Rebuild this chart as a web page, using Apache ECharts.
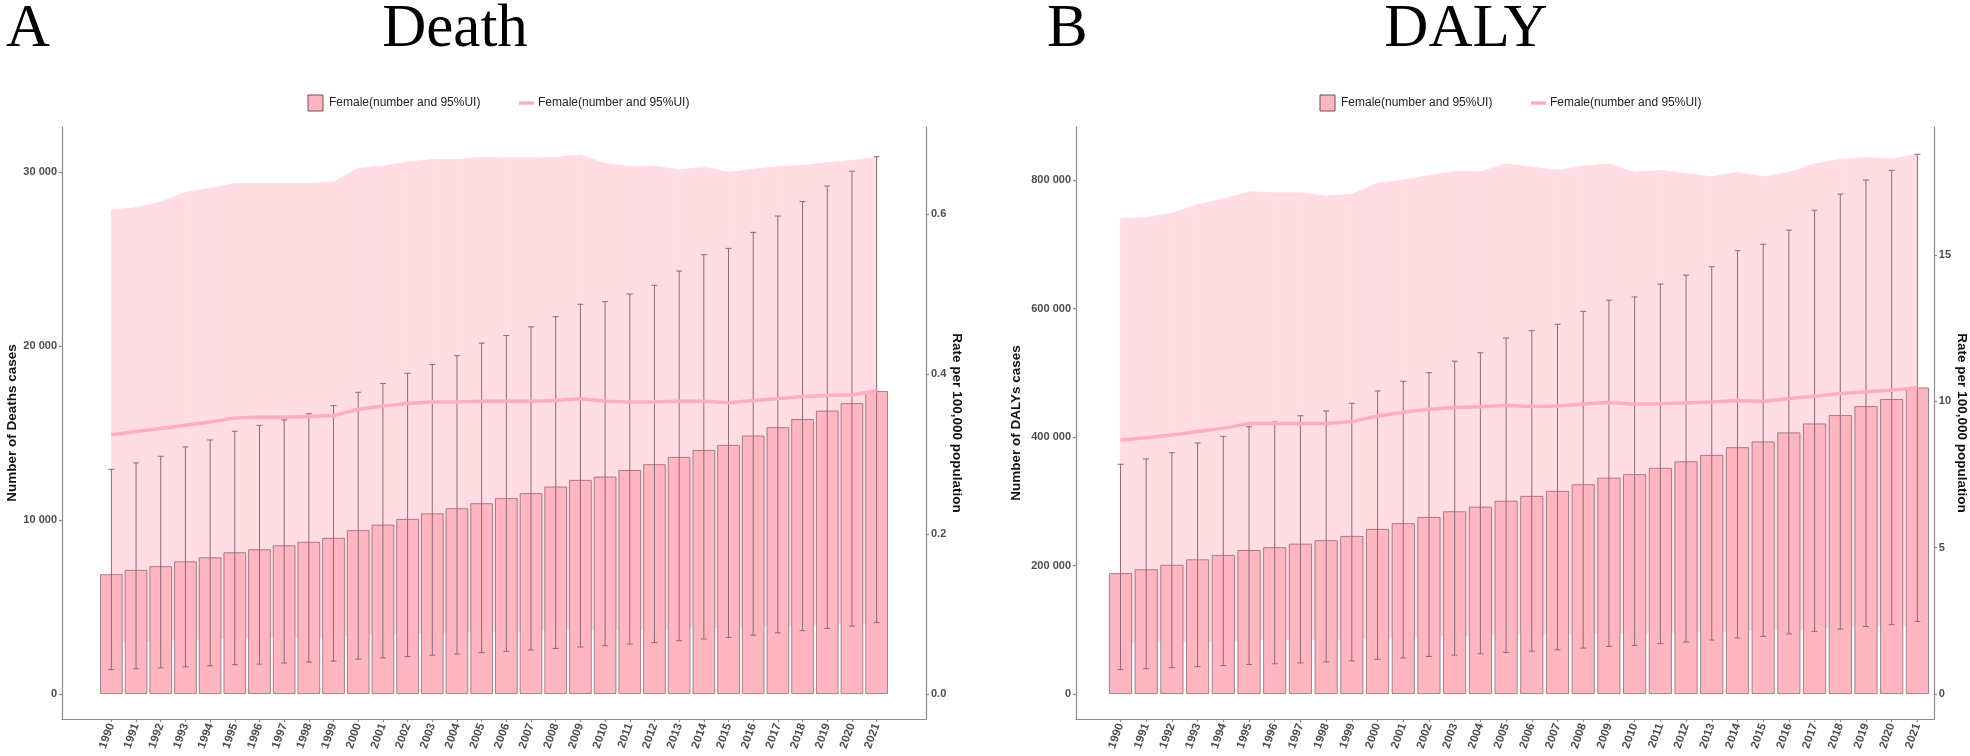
<!DOCTYPE html>
<html><head><meta charset="utf-8">
<script src="https://cdn.jsdelivr.net/npm/echarts@6/dist/echarts.min.js"></script>
<style>html,body{margin:0;padding:0;background:#fff}#c{width:1970px;height:756px}</style>
</head><body><div id="c"></div>
<script>
const years = [1990,1991,1992,1993,1994,1995,1996,1997,1998,1999,2000,2001,2002,2003,2004,2005,2006,2007,2008,2009,2010,2011,2012,2013,2014,2015,2016,2017,2018,2019,2020,2021];

const deathNum   = [6880,7130,7340,7620,7850,8140,8310,8540,8740,8970,9410,9730,10060,10380,10670,10960,11250,11540,11920,12300,12490,12870,13200,13620,14020,14310,14850,15330,15800,16280,16710,17410];
const deathUpper = [12910,13280,13660,14200,14600,15100,15440,15750,16110,16570,17340,17850,18430,18940,19440,20170,20600,21100,21680,22400,22550,22990,23490,24310,25250,25610,26530,27470,28300,29190,30050,30880];
const deathLower = [1400,1450,1500,1560,1620,1680,1720,1780,1830,1890,2000,2080,2150,2230,2300,2380,2450,2530,2620,2700,2770,2870,2950,3060,3160,3250,3380,3510,3640,3770,3900,4100];
const deathRate      = [0.324,0.328,0.332,0.336,0.340,0.345,0.346,0.346,0.347,0.348,0.356,0.360,0.363,0.365,0.365,0.366,0.366,0.366,0.367,0.369,0.366,0.365,0.365,0.366,0.366,0.364,0.367,0.369,0.372,0.373,0.374,0.379];
const deathRateUpper = [0.605,0.608,0.615,0.627,0.632,0.638,0.638,0.638,0.638,0.640,0.657,0.660,0.665,0.668,0.668,0.671,0.670,0.670,0.671,0.674,0.663,0.659,0.660,0.655,0.659,0.652,0.656,0.659,0.661,0.664,0.667,0.671];
const deathRateLower = [0.066,0.066,0.067,0.068,0.069,0.070,0.070,0.071,0.071,0.072,0.074,0.075,0.076,0.077,0.077,0.078,0.078,0.079,0.080,0.080,0.080,0.081,0.081,0.082,0.083,0.083,0.084,0.085,0.086,0.087,0.088,0.089];

const dalyNum   = [188000,194000,201000,209500,216300,224000,228300,233900,239200,245900,256800,265700,275500,284300,291500,300700,308200,316000,326300,336600,342000,352000,362000,372000,384000,393000,407000,421000,434000,448000,459000,477000];
const dalyUpper = [357500,365800,375600,390700,401000,416000,423300,433000,440500,452400,471600,486700,500000,518000,531000,554000,565500,575400,595600,613000,618000,638000,652000,665000,690000,700000,722000,753000,778000,800000,815000,840000];
const dalyLower = [38000,39500,41000,42700,44300,46000,47000,48400,49800,51500,54000,56000,58500,60500,62500,64800,66700,68800,71400,74000,75700,78500,81000,84000,87200,89700,93600,97500,101000,105000,108000,113000];
const dalyRate      = [8.68,8.76,8.85,8.97,9.08,9.25,9.25,9.25,9.25,9.31,9.50,9.63,9.73,9.79,9.82,9.86,9.83,9.84,9.91,9.96,9.90,9.92,9.95,9.98,10.03,10.00,10.10,10.18,10.27,10.33,10.38,10.47];
const dalyRateUpper = [16.25,16.29,16.43,16.73,16.91,17.17,17.13,17.13,17.02,17.08,17.46,17.57,17.72,17.85,17.85,18.12,18.01,17.90,18.05,18.12,17.83,17.90,17.79,17.68,17.83,17.68,17.83,18.12,18.27,18.34,18.29,18.45];
const dalyRateLower = [1.74,1.75,1.77,1.80,1.82,1.85,1.85,1.86,1.86,1.88,1.92,1.95,1.98,2.00,2.01,2.03,2.03,2.04,2.07,2.09,2.08,2.10,2.12,2.14,2.16,2.17,2.21,2.24,2.28,2.31,2.34,2.38];

const deathTicks = [0,10000,20000,30000];
const deathRateTicks = [0,0.2,0.4,0.6];
const dalyTicks = [0,200000,400000,600000,800000];
const dalyRateTicks = [0,5,10,15];

const legendLabel = 'Female(number and 95%UI)';

const chart = echarts.init(document.getElementById('c'), null, {renderer:'canvas'});
const SANS = '"Liberation Sans", Arial, sans-serif';
const SERIF = '"Liberation Serif", "Times New Roman", serif';
const BAND = '#FFDDE3';
function sp(v){ return String(v).replace(/\B(?=(\d{3})+(?!\d))/g,' '); }
function pairs(vals){ return years.map((y,i)=>[y, vals[i]]); }
function errData(lo, up){ return years.map((y,i)=>[y, lo[i], up[i]]); }
function bandData(lo, up){ return years.slice(0,-1).map((y,i)=>[y, lo[i], up[i], years[i+1], lo[i+1], up[i+1]]); }
function bandRender(params, api){
  const x0 = api.value(0), l0 = api.value(1), u0 = api.value(2);
  const x1 = api.value(3), l1 = api.value(4), u1 = api.value(5);
  const pts = [api.coord([x0,l0]), api.coord([x0,u0]), api.coord([x1,u1]), api.coord([x1,l1])];
  return {type:'polygon', shape:{points:pts}, style:{fill:BAND, stroke:BAND, lineWidth:0.8}};
}
function errRender(params, api){
  const x = api.value(0), lo = api.value(1), hi = api.value(2);
  const pLo = api.coord([x, lo]), pHi = api.coord([x, hi]);
  const cw = 3;
  const style = {stroke:'#8B6B74', lineWidth:1};
  return {type:'group', children:[
    {type:'line', shape:{x1:pLo[0],y1:pLo[1],x2:pHi[0],y2:pHi[1]}, style:style},
    {type:'line', shape:{x1:pHi[0]-cw,y1:pHi[1],x2:pHi[0]+cw,y2:pHi[1]}, style:style},
    {type:'line', shape:{x1:pLo[0]-cw,y1:pLo[1],x2:pLo[0]+cw,y2:pLo[1]}, style:style}
  ]};
}
const axisLineStyle = {color:'#8c8c8c', width:1.2};
const lbl = {color:'#4d4d4d', fontSize:11, fontWeight:'bold', fontFamily:SANS};
function xAx(gi, min, max){
  return {type:'value', gridIndex:gi, min:min, max:max, splitLine:{show:false},
    axisLine:{show:true, onZero:false, lineStyle:axisLineStyle},
    axisTick:{show:true, length:3, lineStyle:axisLineStyle, customValues:years},
    axisLabel:Object.assign({}, lbl, {fontSize:11.5, rotate:70, margin:5, customValues:years, formatter:v=>String(v)})};
}
function yAx(gi, pos, min, max, ticks, fmt, name, gap, rot){
  return {type:'value', gridIndex:gi, position:pos, min:min, max:max, splitLine:{show:false},
    axisLine:{show:true, onZero:false, lineStyle:axisLineStyle},
    axisTick:{show:true, length:3, lineStyle:axisLineStyle, customValues:ticks},
    axisLabel:Object.assign({}, lbl, {margin:5, customValues:ticks, formatter:fmt}),
    name:name, nameLocation:'middle', nameGap:gap, nameRotate:rot,
    nameTextStyle:{color:'#111', fontSize:13.5, fontWeight:'bold', fontFamily:SANS}};
}
function panelSeries(xi, yiL, yiR, num, lo, up, rate, rUp, rLo, bw){
  return [
    {type:'custom', xAxisIndex:xi, yAxisIndex:yiR, data:bandData(rLo, rUp), renderItem:bandRender,
      encode:{x:[0,3], y:[1,2,4,5]}, silent:true, z:1},
    {type:'bar', xAxisIndex:xi, yAxisIndex:yiL, data:pairs(num), barWidth:bw,
      itemStyle:{color:'#FFB6C1', borderColor:'#8C6A72', borderWidth:0.8}, z:2},
    {type:'custom', xAxisIndex:xi, yAxisIndex:yiL, data:errData(lo, up), renderItem:errRender,
      encode:{x:0, y:[1,2]}, z:3},
    {type:'line', xAxisIndex:xi, yAxisIndex:yiR, data:pairs(rate), symbol:'none',
      lineStyle:{color:'#FFADBF', width:3.5}, z:4}
  ];
}
function legendG(cx){
  return [
    {type:'rect', shape:{x:cx, y:95, width:15, height:16}, style:{fill:'#FFB6C1', stroke:'#6E4F57', lineWidth:1}},
    {type:'text', x:cx+21, y:103, style:{text:legendLabel, fontSize:12, fontFamily:SANS, fill:'#222', verticalAlign:'middle'}},
    {type:'line', shape:{x1:cx+211, y1:103, x2:cx+226, y2:103}, style:{stroke:'#FFADBF', lineWidth:3.5}},
    {type:'text', x:cx+230, y:103, style:{text:legendLabel, fontSize:12, fontFamily:SANS, fill:'#222', verticalAlign:'middle'}}
  ];
}
function titleG(x, t, align){
  return {type:'text', x:x, y:30, style:{text:t, fontSize:61, fontFamily:SERIF, fill:'#000', align:align, verticalAlign:'middle'}};
}
const option = {
  animation:false,
  backgroundColor:'#fff',
  grid:[
    {left:62, right:1970-926, top:127, bottom:37},
    {left:1076, right:1970-1936, top:127, bottom:37}
  ],
  xAxis:[ xAx(0, 1988, 2023), xAx(1, 1988.27, 2021.64) ],
  yAxis:[
    yAx(0,'left', -1437, 32586, deathTicks, v=>sp(v), 'Number of Deaths cases', 43, 90),
    yAx(0,'right', -0.03125, 0.70875, deathRateTicks, v=>v.toFixed(1), 'Rate per 100,000 population', 23, -90),
    yAx(1,'left', -38900, 882490, dalyTicks, v=>sp(v), 'Number of DALYs cases', 53, 90),
    yAx(1,'right', -0.854, 19.38, dalyRateTicks, v=>String(v), 'Rate per 100,000 population', 19, -90)
  ],
  series:[].concat(
    panelSeries(0, 0, 1, deathNum, deathLower, deathUpper, deathRate, deathRateUpper, deathRateLower, 22.5),
    panelSeries(1, 2, 3, dalyNum, dalyLower, dalyUpper, dalyRate, dalyRateUpper, dalyRateLower, 23)
  ),
  graphic:[].concat(
    [titleG(6,'A','left'), titleG(455,'Death','center'), titleG(1047,'B','left'), titleG(1466,'DALY','center')],
    legendG(308), legendG(1320)
  )
};
chart.setOption(option);
</script></body></html>
